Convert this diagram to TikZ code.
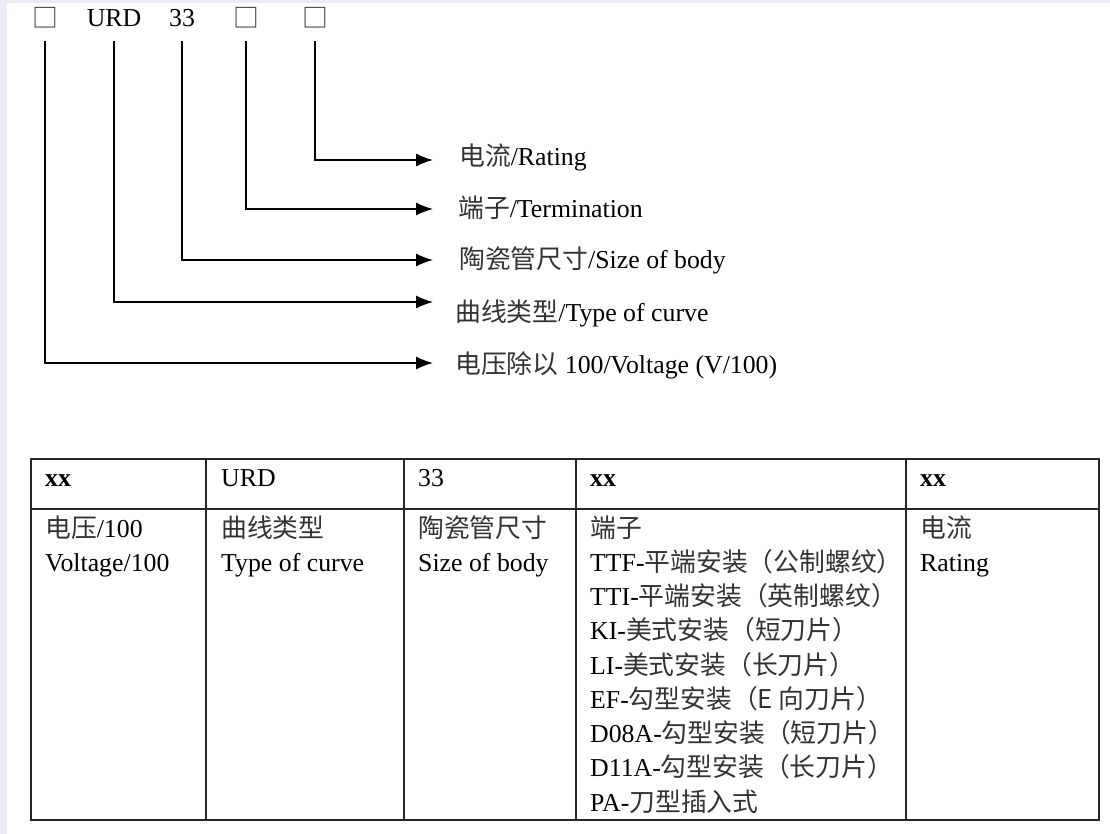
\documentclass[tikz,border=0pt]{standalone}
\usepackage{fontspec}
\setmainfont{Liberation Serif}
\newfontfamily\cjk[Color=333333]{Noto Sans CJK SC}
\newcommand\zh[1]{{\cjk #1}}
\usetikzlibrary{arrows.meta}
\definecolor{sidebg}{RGB}{235,235,245}

\begin{document}
\begin{tikzpicture}[x=1pt, y=-1pt,
>={Latex[length=17pt,width=13pt]},
lead/.style={line width=1.3pt},
txt/.style={anchor=base west, inner sep=0pt},
code/.style={anchor=base, inner sep=0pt},
grid/.style={line width=1.6pt, draw=black!85},
every node/.style={font=\fontsize{25.8}{30}\selectfont}]%Units are pixels, y runs downwards
\fill[sidebg] (0,0) rectangle (1110,834);
\fill[white] (7,3) rectangle (1110,834);
% type code
\node[code] (c1) at (45,28) {\zh{□}};
\node[code] (c2) at (114,27) {URD};
\node[code] (c3) at (182,27) {33};
\node[code] (c4) at (246,28) {\zh{□}};
\node[code] (c5) at (315,28) {\zh{□}};
\coordinate (top) at (0,41);
% meaning of each part
\node[txt] (lr) at (459,166) {\zh{电流}/Rating};
\node[txt] (lt) at (458,218) {\zh{端子}/Termination};
\node[txt] (ls) at (459,269) {\zh{陶瓷管尺寸}/Size of body};
\node[txt] (lc) at (455,321) {\zh{曲线类型}/Type of curve};
\node[txt] (lv) at (455,373) {\zh{电压除以} 100/Voltage (V/100)};
\coordinate (e5) at (433,160);
\coordinate (e4) at (433,209);
\coordinate (e3) at (433,260);
\coordinate (e2) at (433,302);
\coordinate (e1) at (433,363);
\foreach \i in {1,...,5}
  \draw[lead,->] (c\i |- top) |- (e\i);
% table
\draw[grid] (31,459) rectangle (1099,820);
\draw[grid] (31,509) -- (1099,509);
\foreach \x in {206,404,576,906}
  \draw[grid] (\x,459) -- (\x,820);
\node[txt] (h1) at (45,486) {\textbf{xx}};
\node[txt] (h2) at (221,486) {URD};
\node[txt] (h3) at (418,486) {33};
\node[txt] (h4) at (590,486) {\textbf{xx}};
\node[txt] (h5) at (920,486) {\textbf{xx}};
\node[txt] (v1) at (45,537) {\zh{电压}/100};
\node[txt] (v2) at (45,571) {Voltage/100};
\node[txt] (u1) at (221,537) {\zh{曲线类型}};
\node[txt] (u2) at (221,571) {Type of curve};
\node[txt] (s1) at (418,537) {\zh{陶瓷管尺寸}};
\node[txt] (s2) at (418,571) {Size of body};
\node[txt] (r1) at (920,537) {\zh{电流}};
\node[txt] (r2) at (920,571) {Rating};
\foreach \t [count=\i from 0] in {{\zh{端子}}, TTF-\zh{平端安装（公制螺纹）}, TTI-\zh{平端安装（英制螺纹）}, KI-\zh{美式安装（短刀片）}, LI-\zh{美式安装（长刀片）}, EF-\zh{勾型安装（E 向刀片）}, D08A-\zh{勾型安装（短刀片）}, D11A-\zh{勾型安装（长刀片）}, PA-\zh{刀型插入式}}
  \node[txt] (t\i) at (590,{537+34.25*\i}) {\t};
\end{tikzpicture}
\end{document}
